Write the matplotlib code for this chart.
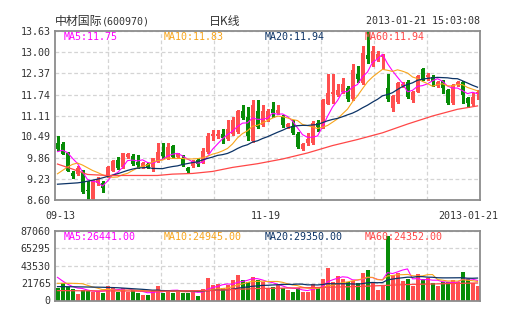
import numpy as np
import pandas as pd
import matplotlib
matplotlib.use('Agg')
import matplotlib.pyplot as plt

# 日K线数据 (2012-09-13 ~ 2013-01-21)
opens = [10.31, 10.28, 10.01, 9.41, 9.37, 9.44, 8.90, 8.62, 9.10, 9.12,
         9.30, 9.47, 9.79, 9.57, 9.87, 9.92, 9.74, 9.59, 9.67, 9.59,
         9.74, 10.04, 9.84, 10.22, 9.87, 9.81, 9.55, 9.61, 9.79, 9.71,
         10.04, 10.49, 10.49, 10.55, 10.43, 10.55, 10.63, 11.25, 11.08, 10.36,
         11.25, 10.83, 10.98, 11.30, 11.20, 11.08, 10.78, 10.80, 10.56, 10.11,
         10.29, 10.29, 10.88, 10.76, 11.47, 11.76, 11.74, 11.81, 11.94, 11.60,
         12.34, 12.09, 12.92, 12.67, 12.79, 12.86, 11.92, 11.33, 11.53, 12.00,
         12.12, 11.58, 11.82, 12.49, 12.25, 12.27, 11.99, 12.15, 11.87, 11.48,
         12.02, 12.12, 11.63, 11.45, 11.77]
highs = [10.49, 10.33, 10.03, 9.46, 9.62, 9.49, 9.17, 9.20, 9.27, 9.18,
         9.62, 9.80, 9.87, 10.01, 10.00, 9.96, 9.94, 9.74, 9.70, 9.86,
         10.29, 10.29, 10.29, 10.25, 10.00, 9.94, 9.57, 9.80, 9.85, 10.14,
         10.59, 10.68, 10.68, 10.70, 10.98, 11.08, 11.28, 11.43, 11.38, 11.58,
         11.58, 11.43, 11.30, 11.53, 11.43, 11.13, 10.90, 10.98, 10.62, 10.30,
         10.58, 10.95, 10.98, 11.62, 12.34, 12.34, 12.04, 12.24, 12.00, 12.64,
         12.60, 13.18, 13.63, 13.18, 13.03, 12.95, 12.34, 11.73, 12.12, 12.10,
         12.17, 11.85, 12.32, 12.53, 12.37, 12.32, 12.15, 12.18, 11.90, 12.05,
         12.15, 12.15, 11.66, 11.78, 11.87]
lows = [10.09, 9.96, 9.45, 9.25, 9.33, 8.82, 8.60, 8.60, 9.05, 8.85,
        9.27, 9.45, 9.52, 9.55, 9.85, 9.65, 9.54, 9.56, 9.56, 9.45,
        9.72, 9.84, 9.82, 9.85, 9.85, 9.62, 9.42, 9.59, 9.60, 9.69,
        10.00, 10.39, 10.45, 10.29, 10.40, 10.52, 10.60, 11.00, 10.39, 10.33,
        10.75, 10.80, 10.95, 11.08, 11.15, 10.76, 10.75, 10.55, 10.16, 10.08,
        10.24, 10.26, 10.64, 10.74, 11.45, 11.50, 11.70, 11.78, 11.55, 11.58,
        12.10, 12.05, 12.69, 12.60, 12.74, 12.49, 11.55, 11.25, 11.48, 11.95,
        11.64, 11.52, 11.80, 12.17, 12.17, 11.98, 11.95, 11.78, 11.45, 11.45,
        11.98, 11.48, 11.38, 11.42, 11.62]
closes = [10.11, 9.98, 9.47, 9.31, 9.56, 8.85, 8.87, 9.18, 9.22, 8.95,
          9.59, 9.77, 9.54, 9.99, 9.97, 9.67, 9.64, 9.71, 9.59, 9.84,
          10.02, 9.91, 10.17, 9.87, 9.97, 9.64, 9.45, 9.77, 9.67, 10.07,
          10.49, 10.55, 10.55, 10.45, 10.70, 10.98, 11.26, 11.05, 10.49, 11.43,
          10.78, 11.25, 11.25, 11.20, 11.28, 10.83, 10.86, 10.58, 10.19, 10.27,
          10.43, 10.88, 10.76, 11.58, 11.79, 11.81, 11.86, 12.06, 11.60, 12.46,
          12.21, 12.99, 12.79, 13.03, 12.96, 12.92, 11.60, 11.70, 12.09, 12.05,
          11.66, 11.82, 12.30, 12.19, 12.32, 12.12, 12.12, 11.92, 11.48, 12.02,
          12.12, 11.73, 11.48, 11.68, 11.82]
volumes = [16170, 21560, 17410, 14510, 8290, 13270, 12020, 11190, 12020, 9950,
           18660, 16170, 11190, 15340, 11190, 13270, 9950, 7050, 7050, 12440,
           18240, 9950, 13270, 9950, 13270, 9950, 9120, 13270, 5800, 14510,
           27780, 19490, 20730, 16170, 19490, 25710, 31920, 25710, 23630, 29850,
           25710, 23630, 15340, 17410, 19490, 15340, 13270, 11190, 15340, 11190,
           11190, 20730, 17410, 26530, 41050, 23630, 30680, 26530, 23630, 24880,
           22390, 34830, 38140, 23630, 13270, 19490, 80430, 31920, 34000, 24880,
           26530, 18240, 33170, 26530, 27780, 21560, 18240, 23630, 23630, 25710,
           23630, 36070, 26530, 21560, 18240]

# 均线开头几天 (窗口之前的数据读不到, 直接从图上读)
ma5_head = [10.04, 10.08, 10.01, 9.84]
ma10_head = [9.38, 9.48, 9.58, 9.66, 9.70, 9.64, 9.56, 9.48, 9.42]
ma20_head = [9.07, 9.08, 9.09, 9.10, 9.11, 9.13, 9.16, 9.19, 9.22, 9.26,
             9.30, 9.34, 9.38, 9.43, 9.48, 9.52, 9.55, 9.56, 9.57]
ma60_idx = [0, 3, 6, 10, 15, 20, 23, 27, 31, 35, 40, 45, 50, 55, 60, 65, 70, 75, 80, 84]
ma60_vals = [9.67, 9.52, 9.36, 9.33, 9.33, 9.33, 9.37, 9.39, 9.45, 9.57,
             9.68, 9.82, 10.00, 10.22, 10.40, 10.60, 10.86, 11.10, 11.30, 11.40]

vma5_head = [29000, 24500, 20500, 17500]
vma10_head = [21500, 21600, 21600, 21500, 21300, 21000, 19000, 17000, 15500]
vma20_head = [17400, 17400, 17300, 17200, 17100, 17000, 16900, 16800, 16700, 16600,
              16400, 16200, 16000, 15600, 15200, 14800, 14400, 14000, 13500]
vma60_idx = [0, 10, 20, 30, 40, 50, 60, 66, 70, 84]
vma60_vals = [12400, 12000, 11600, 12500, 15000, 16000, 17500, 19000, 20000, 22000]

price_ticks = ['8.60', '9.23', '9.86', '10.49', '11.11', '11.74', '12.37', '13.00', '13.63']
vol_ticks = ['0', '21765', '43530', '65295', '87060']

RED = '#ff4f4f'
GREEN = '#078c07'
C_MA5 = '#ff00ff'
C_MA10 = '#f8a51c'
C_MA20 = '#0c3366'
C_MA60 = '#ff4747'
GRID = '#d4d4d4'
SPINE = '#8c8c8c'
TXT = '#333333'
MONO = 'DejaVu Sans Mono'
CJK = ['Noto Sans CJK SC', 'DejaVu Sans']


def moving_avg(values, n, head):
    ma = pd.Series(values, dtype=float).rolling(n).mean().to_numpy()
    ma[:n - 1] = head
    return ma


x = np.arange(len(closes))
o = np.array(opens)
c = np.array(closes)
up = c >= o
colors = np.where(up, RED, GREEN)

W, H = 505, 330
fig = plt.figure(figsize=(W / 100, H / 100), dpi=100)
fig.patch.set_facecolor('white')
ax = fig.add_axes([55 / W, 1 - 200 / H, 425 / W, 169 / H])
axv = fig.add_axes([55 / W, 1 - 300.5 / H, 425 / W, 69.5 / H])

grid_x = np.linspace(-0.5, len(x) - 0.5, 9)[1:-1]
for a in (ax, axv):
    a.set_xlim(-0.5, len(x) - 0.5)
    a.set_xticks(grid_x, minor=True)
    a.set_xticks([])
    a.grid(which='minor', axis='x', color=GRID, lw=0.9, ls=(0, (3, 2)), zorder=0)
    a.grid(which='major', axis='y', color=GRID, lw=0.9, ls=(0, (3, 2)), zorder=0)
    a.tick_params(which='both', length=0, labelsize=7.2, labelcolor=TXT, pad=3)
    for s in a.spines.values():
        s.set_color(SPINE)
        s.set_linewidth(1.3)
        s.set_zorder(5)

# K线
ax.vlines(x, lows, highs, colors=colors, lw=0.8, zorder=2, antialiased=False)
body_h = np.maximum(np.abs(c - o), 0.02)
ax.bar(x, body_h, bottom=np.minimum(o, c), width=0.8, color=colors, lw=0,
       zorder=3, antialiased=False)

ax.plot(x, moving_avg(closes, 5, ma5_head), color=C_MA5, lw=0.8, zorder=4)
ax.plot(x, moving_avg(closes, 10, ma10_head), color=C_MA10, lw=0.8, zorder=4)
ax.plot(x, moving_avg(closes, 20, ma20_head), color=C_MA20, lw=0.9, zorder=4)
ax.plot(ma60_idx, ma60_vals, color=C_MA60, lw=0.9, zorder=4)

yt = [float(t) for t in price_ticks]
ax.set_ylim(yt[0], yt[-1])
ax.set_yticks(yt)
ax.set_yticklabels(price_ticks, fontfamily=MONO)

# 成交量
axv.bar(x, volumes, width=0.8, color=colors, lw=0, zorder=2, antialiased=False)
axv.plot(x, moving_avg(volumes, 5, vma5_head), color=C_MA5, lw=0.8, zorder=4)
axv.plot(x, moving_avg(volumes, 10, vma10_head), color=C_MA10, lw=0.8, zorder=4)
axv.plot(x, moving_avg(volumes, 20, vma20_head), color=C_MA20, lw=0.9, zorder=4)
axv.plot(vma60_idx, vma60_vals, color=C_MA60, lw=0.9, zorder=4)
vt = [int(t) for t in vol_ticks]
axv.set_ylim(0, vt[-1])
axv.set_yticks(vt)
axv.set_yticklabels(vol_ticks, fontfamily=MONO)


def ftext(px, py, s, **kw):
    kw.setdefault('fontfamily', MONO)
    kw.setdefault('fontsize', 7.2)
    kw.setdefault('color', TXT)
    kw.setdefault('va', 'center')
    fig.text(px / W, 1 - py / H, s, **kw)


# 标题行
ftext(55, 21, '中材国际', fontfamily=CJK, fontsize=8.6, ha='left')
ftext(102, 21.5, '(600970)', ha='left')
ftext(225, 21, '日K线', fontfamily=CJK, fontsize=8.6, ha='center')
ftext(480, 21.5, '2013-01-21 15:03:08', ha='right')

# 均线图例
for px, s, col in [(64, 'MA5:11.75', C_MA5), (164, 'MA10:11.83', C_MA10),
                   (265, 'MA20:11.94', C_MA20), (365, 'MA60:11.94', C_MA60)]:
    ftext(px, 37, s, color=col, ha='left')
for px, s, col in [(64, 'MA5:26441.00', C_MA5), (164, 'MA10:24945.00', C_MA10),
                   (265, 'MA20:29350.00', C_MA20), (365, 'MA60:24352.00', C_MA60)]:
    ftext(px, 236.5, s, color=col, ha='left')

# 日期
ftext(60, 216, '09-13', ha='center')
ftext(266, 216, '11-19', ha='center')
ftext(498, 216, '2013-01-21', ha='right')

fig.savefig('out.png', dpi=100, facecolor='white')
